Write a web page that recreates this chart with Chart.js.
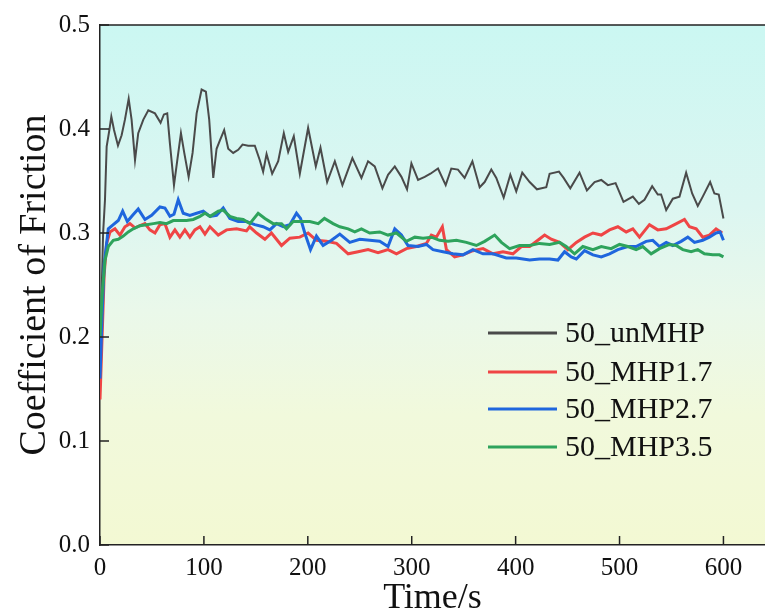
<!DOCTYPE html>
<html>
<head>
<meta charset="utf-8">
<script src="https://cdn.jsdelivr.net/npm/chart.js@4.4.1/dist/chart.umd.min.js"></script>
<style>
  html, body { margin: 0; padding: 0; background: #ffffff; }
  #wrap { width: 765px; height: 612px; position: relative; }
</style>
</head>
<body>
<div id="wrap"><canvas id="c"></canvas></div>
<script>
// ---------- DATA ----------
const seriesNames = ["50_unMHP", "50_MHP1.7", "50_MHP2.7", "50_MHP3.5"];
const xTickValues = [0, 100, 200, 300, 400, 500, 600];
const yTickValues = [0.0, 0.1, 0.2, 0.3, 0.4, 0.5];

const unMHP_t = [1,3,4.8,6.4,9,10.9,13.5,17.3,20.8,24,27.6,30.4,33.7,36.8,41.7,46.5,52.9,58.3,61.5,64.7,67.3,71.2,74.4,77.9,81.1,85.3,89.1,93,97.8,101.9,105.1,109,112.2,115.4,119.5,123.4,128.2,133,137.2,142.6,149,153.8,157,160.3,165.7,171.5,176.9,181.1,186.5,192.3,200.3,207.7,212.2,218.6,226,233.3,242.9,251.6,258,264.4,271.8,277.2,283.7,290.1,295.5,299.7,306.1,312.5,318,325.3,332.7,338.1,344.5,350.9,358.4,365.4,370.2,376.6,381.4,388.5,394.9,400.6,406.4,413.5,420.5,429.5,432.7,441.7,446.2,452.6,461.5,468.6,476,482.4,488.8,496.2,503.8,512.8,518.6,524,531.4,536.8,540,544.9,551.3,557.7,564.1,569.9,575.3,580.1,587.2,591.3,595.5,600];
const unMHP_v = [0.22,0.30,0.332,0.383,0.399,0.412,0.399,0.384,0.394,0.409,0.429,0.409,0.370,0.396,0.409,0.418,0.415,0.406,0.414,0.415,0.386,0.346,0.370,0.396,0.377,0.354,0.377,0.415,0.438,0.436,0.409,0.353,0.381,0.389,0.399,0.381,0.377,0.380,0.385,0.384,0.384,0.370,0.359,0.376,0.357,0.369,0.396,0.378,0.393,0.357,0.401,0.364,0.382,0.349,0.369,0.346,0.372,0.353,0.369,0.364,0.343,0.356,0.364,0.354,0.342,0.367,0.351,0.354,0.357,0.362,0.346,0.362,0.361,0.353,0.369,0.344,0.349,0.361,0.353,0.334,0.356,0.340,0.358,0.349,0.342,0.344,0.357,0.359,0.353,0.343,0.358,0.341,0.349,0.351,0.346,0.348,0.330,0.335,0.328,0.332,0.345,0.337,0.337,0.322,0.333,0.335,0.358,0.338,0.326,0.335,0.349,0.338,0.337,0.314];

const mhp17_t = [0,2,4,6.4,9.6,14.4,19.2,24,28.8,33.7,38.5,43.3,48,52.9,57.7,62.5,67.3,72.1,76.9,81.7,86.5,91.3,96.2,101,105.8,113.8,121.8,131.4,141,144,150.7,158.7,165,174.7,182.7,192.3,200.3,208.3,218,227.6,238.8,248.4,258,267.6,277.2,285.3,294.9,304.5,314.1,318.9,323.7,329.5,333.4,341.3,349.3,358.9,368.6,378.2,387.8,397.4,405.5,413.5,421.4,427.9,434.3,442.3,450.3,458.4,466.3,474.4,482.4,490.4,498.4,506.4,512.8,519.2,528.8,536.8,544.9,552.9,562.5,567.3,573.8,580.1,586.5,592.9,598.8];
const mhp17_v = [0.14,0.20,0.26,0.290,0.301,0.304,0.298,0.306,0.309,0.305,0.307,0.309,0.303,0.300,0.308,0.309,0.296,0.303,0.296,0.303,0.296,0.303,0.306,0.299,0.306,0.298,0.303,0.304,0.302,0.306,0.300,0.294,0.300,0.288,0.295,0.296,0.300,0.293,0.292,0.290,0.280,0.282,0.284,0.281,0.284,0.280,0.285,0.287,0.290,0.298,0.296,0.306,0.284,0.277,0.279,0.283,0.285,0.280,0.282,0.280,0.287,0.287,0.293,0.298,0.294,0.291,0.284,0.291,0.296,0.300,0.298,0.303,0.306,0.301,0.304,0.296,0.308,0.303,0.304,0.308,0.313,0.306,0.304,0.296,0.298,0.304,0.300];

const mhp27_t = [0,2,4,8,12.8,17.6,21.8,26.3,31.4,36.8,43.3,49.7,57.7,62.5,67.3,71.2,75.3,80.1,86.5,93,99.4,105.8,112.2,118.6,125,133,141,149,157,163.5,169.9,176.3,182.7,189.1,193,197.1,202.6,208.3,214.7,222.8,230.8,240.4,250,259.6,269.2,277.2,283.7,290.1,296.4,306.1,314.1,320.5,330.1,339.7,349.3,358.9,368.6,378.2,391,400.6,413.5,423,432.7,440.7,447.1,453.5,458.4,466.3,474.4,482.4,490.4,498.4,508,516,525.6,532,538.5,544.9,551.3,559.3,565.7,572.1,580.1,586.5,592.9,596.8,600];
const mhp27_v = [0.16,0.22,0.27,0.304,0.308,0.312,0.321,0.311,0.317,0.323,0.313,0.317,0.325,0.324,0.316,0.318,0.332,0.319,0.317,0.319,0.321,0.316,0.317,0.324,0.314,0.311,0.311,0.308,0.306,0.303,0.309,0.306,0.308,0.319,0.314,0.300,0.284,0.297,0.288,0.293,0.299,0.291,0.294,0.293,0.292,0.287,0.304,0.298,0.288,0.287,0.289,0.284,0.282,0.280,0.279,0.284,0.280,0.280,0.276,0.276,0.274,0.275,0.275,0.274,0.282,0.277,0.275,0.283,0.279,0.277,0.280,0.284,0.287,0.287,0.292,0.293,0.287,0.291,0.288,0.292,0.296,0.291,0.293,0.296,0.300,0.301,0.293];

const mhp35_t = [0,2,4.8,8,12.8,17.6,22.4,27.2,32,38.5,44.8,51.3,57.7,64.1,70.5,76.9,83.3,89.7,96.2,101,106,113.8,118.6,125,131.4,137.8,144.2,152.2,158.7,166.6,174.7,179.5,185.9,193.9,201.9,210,216,224.3,230.8,238.8,245.2,251.6,259.6,269.2,277.2,285.3,294.9,303,310.9,318.9,326.9,334.9,343,352.6,362.2,370.2,379.8,386.3,394.2,403.8,413.5,423,432.7,442.3,448.7,456.7,464.7,474.4,482.4,491.9,500,508,516,522.4,530.4,538.5,548.1,554.5,560.9,568.9,575.3,581.7,589.7,596.2,600];
const mhp35_v = [0.20,0.24,0.274,0.287,0.293,0.294,0.297,0.301,0.304,0.307,0.308,0.309,0.310,0.309,0.312,0.312,0.312,0.313,0.316,0.319,0.316,0.321,0.322,0.316,0.314,0.313,0.309,0.319,0.314,0.309,0.309,0.304,0.311,0.311,0.311,0.309,0.314,0.309,0.306,0.304,0.301,0.304,0.300,0.301,0.298,0.300,0.292,0.296,0.295,0.296,0.293,0.292,0.293,0.291,0.288,0.292,0.298,0.291,0.285,0.288,0.288,0.290,0.289,0.291,0.287,0.280,0.287,0.284,0.287,0.285,0.289,0.287,0.284,0.287,0.280,0.285,0.289,0.288,0.284,0.282,0.284,0.280,0.279,0.279,0.277];

// ---------- STYLE ----------
const FONT = "'Liberation Serif', 'Times New Roman', serif";
const colors = ["#4a4a4a", "#ef4545", "#1f66dd", "#2ea35c"];
const widths = [2, 3, 3, 3];

function pts(t, v) { return t.map((x, i) => ({ x: x, y: v[i] })); }
const allT = [unMHP_t, mhp17_t, mhp27_t, mhp35_t];
const allV = [unMHP_v, mhp17_v, mhp27_v, mhp35_v];

const datasets = seriesNames.map((n, i) => ({
  label: n,
  data: pts(allT[i], allV[i]),
  borderColor: colors[i],
  backgroundColor: colors[i],
  borderWidth: widths[i],
  pointRadius: 0,
  tension: 0,
  fill: false,
  order: 4 - i
}));

const framePlugin = {
  id: 'frame',
  beforeDraw(chart) {
    const { ctx, chartArea: a } = chart;
    const g = ctx.createLinearGradient(0, a.top, 0, a.bottom);
    g.addColorStop(0.0, '#cbf7f2');
    g.addColorStop(0.35, '#dcf6f1');
    g.addColorStop(0.55, '#eaf8ea');
    g.addColorStop(0.75, '#f1f9dc');
    g.addColorStop(1.0, '#f3f9d3');
    ctx.save();
    ctx.fillStyle = g;
    ctx.fillRect(a.left, a.top, a.right - a.left, a.bottom - a.top);
    ctx.restore();
  },
  afterDraw(chart) {
    const { ctx, chartArea: a, scales } = chart;
    ctx.save();
    ctx.strokeStyle = '#222';
    ctx.lineWidth = 1.5;
    ctx.beginPath();
    ctx.moveTo(a.left, a.top);
    ctx.lineTo(a.right, a.top);
    ctx.stroke();
    const tl = 9;
    scales.x.ticks.forEach(t => {
      const x = scales.x.getPixelForValue(t.value);
      ctx.beginPath();
      ctx.moveTo(x, a.bottom);
      ctx.lineTo(x, a.bottom - tl);
      ctx.stroke();
    });
    scales.y.ticks.forEach(t => {
      const y = scales.y.getPixelForValue(t.value);
      ctx.beginPath();
      ctx.moveTo(a.left, y);
      ctx.lineTo(a.left + tl, y);
      ctx.stroke();
    });
    const lx0 = a.left + 388, lx1 = a.left + 457, tx = a.left + 465;
    const rowY = [a.top + 308, a.top + 347, a.top + 384, a.top + 422];
    ctx.font = "30px " + FONT;
    ctx.textBaseline = 'middle';
    ctx.textAlign = 'left';
    seriesNames.forEach((n, i) => {
      ctx.strokeStyle = colors[i];
      ctx.lineWidth = 3;
      ctx.beginPath();
      ctx.moveTo(lx0, rowY[i]);
      ctx.lineTo(lx1, rowY[i]);
      ctx.stroke();
      ctx.fillStyle = '#111';
      ctx.fillText(n, tx, rowY[i] + 1);
    });
    ctx.restore();
  }
};

new Chart(document.getElementById('c'), {
  type: 'line',
  data: { datasets: datasets },
  options: {
    responsive: true,
    maintainAspectRatio: false,
    animation: false,
    layout: { padding: { top: 25, right: 0, left: 0, bottom: 0 } },
    plugins: { legend: { display: false }, tooltip: { enabled: false } },
    scales: {
      x: {
        type: 'linear',
        min: 0,
        max: 640,
        afterFit(s) { s.height = 67; },
        afterBuildTicks(s) { s.ticks = xTickValues.map(v => ({ value: v })); },
        grid: { display: false, drawTicks: false },
        border: { display: true, color: '#222', width: 1.5 },
        ticks: {
          includeBounds: false,
          padding: 8,
          color: '#111',
          font: { family: FONT, size: 25 },
          maxRotation: 0,
          callback: v => String(v)
        },
        title: {
          display: true,
          text: 'Time/s',
          color: '#111',
          font: { family: FONT, size: 36, lineHeight: 0.75 },
          padding: { top: 0, bottom: 0 }
        }
      },
      y: {
        type: 'linear',
        min: 0,
        max: 0.5,
        afterFit(s) { s.width = 100; },
        afterBuildTicks(s) { s.ticks = yTickValues.map(v => ({ value: v })); },
        grid: { display: false, drawTicks: false },
        border: { display: true, color: '#222', width: 1.5 },
        ticks: {
          padding: 10,
          color: '#111',
          font: { family: FONT, size: 25 },
          callback: v => Number(v).toFixed(1)
        },
        title: {
          display: true,
          text: 'Coefficient of Friction',
          color: '#111',
          font: { family: FONT, size: 38, lineHeight: 0.9 },
          padding: { top: 18, bottom: 0 }
        }
      }
    }
  },
  plugins: [framePlugin]
});
</script>
</body>
</html>
